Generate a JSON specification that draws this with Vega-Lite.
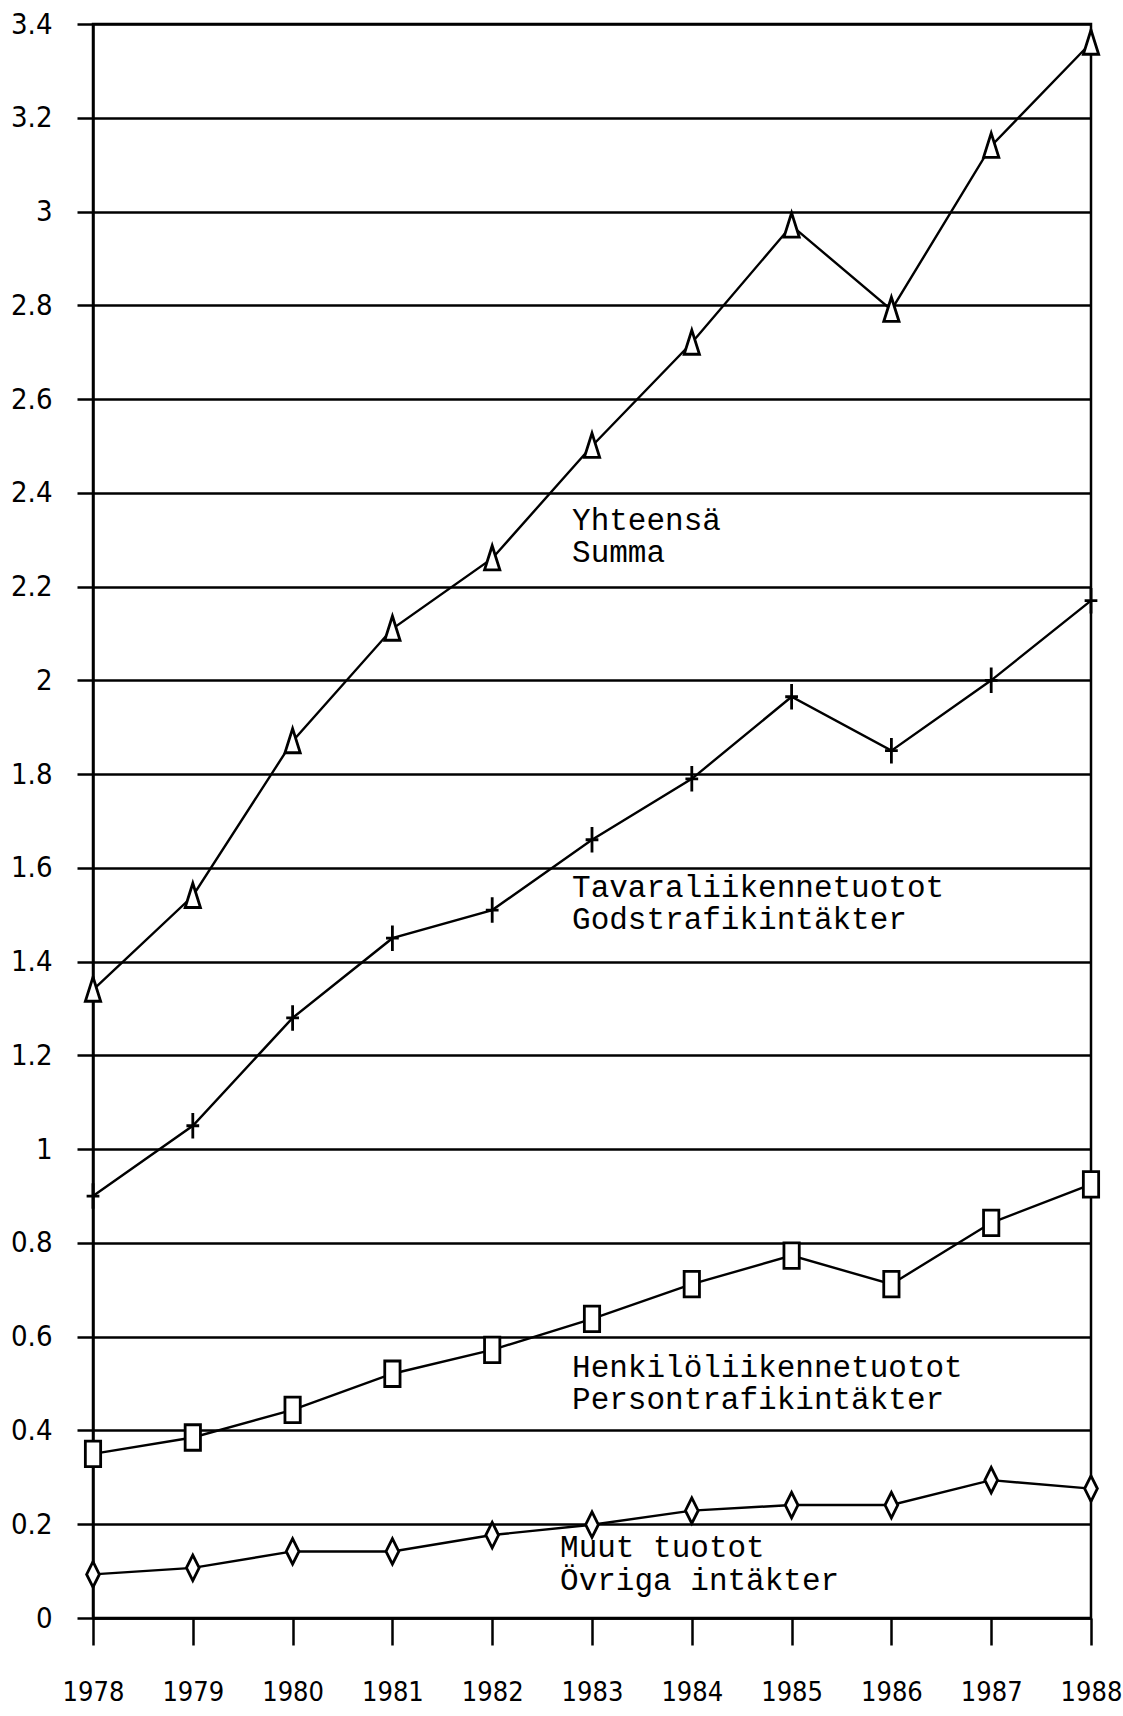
{
  "$schema": "https://vega.github.io/schema/vega-lite/v6.json",
  "autosize": {"type": "none"},
  "width": 998,
  "height": 1594,
  "padding": {"left": 93, "top": 24, "right": 32, "bottom": 98},
  "background": "white",
  "config": {
    "view": {"stroke": "black", "strokeWidth": 2.5},
    "axis": {"domainColor": "black", "tickColor": "black", "gridColor": "black", "labelColor": "black"}
  },
  "datasets": {
    "series": [
      {"year": 1978, "series": "Yhteensä", "value": 1.34},
      {"year": 1979, "series": "Yhteensä", "value": 1.54},
      {"year": 1980, "series": "Yhteensä", "value": 1.87},
      {"year": 1981, "series": "Yhteensä", "value": 2.11},
      {"year": 1982, "series": "Yhteensä", "value": 2.26},
      {"year": 1983, "series": "Yhteensä", "value": 2.50},
      {"year": 1984, "series": "Yhteensä", "value": 2.72},
      {"year": 1985, "series": "Yhteensä", "value": 2.97},
      {"year": 1986, "series": "Yhteensä", "value": 2.79},
      {"year": 1987, "series": "Yhteensä", "value": 3.14},
      {"year": 1988, "series": "Yhteensä", "value": 3.36},
      {"year": 1978, "series": "Tavaraliikenne", "value": 0.90},
      {"year": 1979, "series": "Tavaraliikenne", "value": 1.05},
      {"year": 1980, "series": "Tavaraliikenne", "value": 1.28},
      {"year": 1981, "series": "Tavaraliikenne", "value": 1.45},
      {"year": 1982, "series": "Tavaraliikenne", "value": 1.51},
      {"year": 1983, "series": "Tavaraliikenne", "value": 1.66},
      {"year": 1984, "series": "Tavaraliikenne", "value": 1.79},
      {"year": 1985, "series": "Tavaraliikenne", "value": 1.965},
      {"year": 1986, "series": "Tavaraliikenne", "value": 1.85},
      {"year": 1987, "series": "Tavaraliikenne", "value": 2.00},
      {"year": 1988, "series": "Tavaraliikenne", "value": 2.17},
      {"year": 1978, "series": "Henkilöliikenne", "value": 0.35},
      {"year": 1979, "series": "Henkilöliikenne", "value": 0.385},
      {"year": 1980, "series": "Henkilöliikenne", "value": 0.444},
      {"year": 1981, "series": "Henkilöliikenne", "value": 0.521},
      {"year": 1982, "series": "Henkilöliikenne", "value": 0.572},
      {"year": 1983, "series": "Henkilöliikenne", "value": 0.638},
      {"year": 1984, "series": "Henkilöliikenne", "value": 0.712},
      {"year": 1985, "series": "Henkilöliikenne", "value": 0.773},
      {"year": 1986, "series": "Henkilöliikenne", "value": 0.712},
      {"year": 1987, "series": "Henkilöliikenne", "value": 0.843},
      {"year": 1988, "series": "Henkilöliikenne", "value": 0.925},
      {"year": 1978, "series": "Muut", "value": 0.093},
      {"year": 1979, "series": "Muut", "value": 0.107},
      {"year": 1980, "series": "Muut", "value": 0.142},
      {"year": 1981, "series": "Muut", "value": 0.142},
      {"year": 1982, "series": "Muut", "value": 0.177},
      {"year": 1983, "series": "Muut", "value": 0.199},
      {"year": 1984, "series": "Muut", "value": 0.229},
      {"year": 1985, "series": "Muut", "value": 0.241},
      {"year": 1986, "series": "Muut", "value": 0.241},
      {"year": 1987, "series": "Muut", "value": 0.294},
      {"year": 1988, "series": "Muut", "value": 0.276}
    ],
    "labels": [
      {"label": "Yhteensä", "year": 1982.8, "value": 2.321},
      {"label": "Summa", "year": 1982.8, "value": 2.252},
      {"label": "Tavaraliikennetuotot", "year": 1982.8, "value": 1.538},
      {"label": "Godstrafikintäkter", "year": 1982.8, "value": 1.469},
      {"label": "Henkilöliikennetuotot", "year": 1982.8, "value": 0.514},
      {"label": "Persontrafikintäkter", "year": 1982.8, "value": 0.445},
      {"label": "Muut tuotot", "year": 1982.68, "value": 0.130},
      {"label": "Övriga intäkter", "year": 1982.68, "value": 0.060}
    ]
  },
  "encoding": {
    "x": {
      "field": "year", "type": "quantitative",
      "scale": {"domain": [1978, 1988], "nice": false, "zero": false},
      "axis": {
        "title": null, "values": [1978, 1979, 1980, 1981, 1982, 1983, 1984, 1985, 1986, 1987, 1988],
        "format": "d", "grid": false, "domainWidth": 2.5, "tickWidth": 2.5, "tickSize": 27,
        "labelFont": "DejaVu Sans Condensed", "labelFontSize": 27, "labelPadding": 34, "labelFlush": false
      }
    },
    "y": {
      "field": "value", "type": "quantitative",
      "scale": {"domain": [0, 3.4], "nice": false},
      "axis": {
        "title": null, "values": [0, 0.2, 0.4, 0.6, 0.8, 1, 1.2, 1.4, 1.6, 1.8, 2, 2.2, 2.4, 2.6, 2.8, 3, 3.2, 3.4],
        "format": ".1~f", "grid": true, "gridWidth": 2.5, "domainWidth": 2.5, "tickWidth": 2.5, "tickSize": 16,
        "labelFont": "DejaVu Sans Condensed", "labelFontSize": 29, "labelPadding": 25, "labelFlush": false
      }
    }
  },
  "layer": [
    {
      "data": {"name": "series"},
      "mark": {"type": "line", "color": "black", "strokeWidth": 2.4},
      "encoding": {"detail": {"field": "series"}}
    },
    {
      "data": {"name": "series"},
      "mark": {"type": "point", "filled": false, "fill": "white", "fillOpacity": 1, "stroke": "black", "strokeWidth": 2.8, "opacity": 1},
      "encoding": {
        "shape": {
          "field": "series", "type": "nominal", "legend": null,
          "scale": {
            "domain": ["Yhteensä", "Tavaraliikenne", "Henkilöliikenne", "Muut"],
            "range": ["M0,-1L0.6,0.9H-0.6Z", "M0,-1V1M-0.5,0H0.5", "M-0.6,-1H0.6V1H-0.6Z", "M0,-1L0.5,0L0,1L-0.5,0Z"]
          }
        },
        "size": {"value": 650}
      }
    },
    {
      "data": {"name": "labels"},
      "mark": {"type": "text", "align": "left", "baseline": "alphabetic", "font": "Liberation Mono", "fontSize": 31, "color": "black"},
      "encoding": {
        "text": {"field": "label"},
        "fontWeight": {"condition": {"test": "datum.label === 'Muut tuotot'", "value": "bold"}, "value": "normal"}
      }
    }
  ]
}
